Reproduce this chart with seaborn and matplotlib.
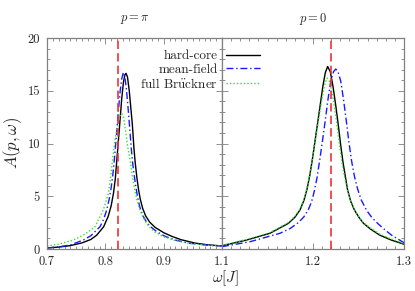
import matplotlib
matplotlib.use("Agg")
import matplotlib.pyplot as plt
from matplotlib.ticker import MultipleLocator
import seaborn as sns

# p = pi panel (omega in J, spectral function A)
w_pi_hc = [0.700, 0.720, 0.740, 0.760, 0.775, 0.785, 0.797, 0.805, 0.810, 0.814, 0.817, 0.8195,
           0.822, 0.8252, 0.828, 0.831, 0.8335, 0.8355, 0.838, 0.841, 0.8435, 0.8463, 0.849,
           0.851, 0.854, 0.857, 0.860, 0.864, 0.869, 0.876, 0.8853, 0.900, 0.9139, 0.930,
           0.9539, 0.975, 1.000]
A_pi_hc = [0.10, 0.18, 0.32, 0.58, 0.90, 1.30, 2.10, 3.10, 4.10, 5.30, 6.60, 8.30,
           10.0, 12.2, 14.2, 15.8, 16.5, 16.65, 16.3, 15.0, 13.5, 11.8, 9.6,
           8.3, 6.8, 5.6, 4.7, 3.85, 3.15, 2.55, 2.05, 1.55, 1.20, 0.88,
           0.56, 0.40, 0.29]

w_pi_mf = [0.700, 0.720, 0.740, 0.7623, 0.775, 0.791, 0.797, 0.8024, 0.8065, 0.810, 0.813,
           0.8155, 0.818, 0.8205, 0.823, 0.8255, 0.828, 0.8309, 0.8335, 0.836, 0.8385, 0.841,
           0.8435, 0.8463, 0.849, 0.852, 0.855, 0.859, 0.864, 0.870, 0.8767, 0.888, 0.9024,
           0.920, 0.9424, 0.970, 1.000]
A_pi_mf = [0.10, 0.20, 0.38, 0.85, 1.25, 2.12, 2.80, 3.70, 4.70, 5.80, 7.10,
           8.5, 10.1, 11.8, 13.5, 15.0, 16.1, 16.75, 16.3, 15.2, 13.7, 12.0,
           10.2, 8.4, 7.2, 6.0, 5.0, 4.0, 3.2, 2.6, 2.15, 1.65, 1.20,
           0.85, 0.56, 0.38, 0.28]

w_pi_fb = [0.700, 0.720, 0.7452, 0.765, 0.7823, 0.7966, 0.8052, 0.8095, 0.813, 0.817, 0.8215,
           0.825, 0.828, 0.831, 0.8345, 0.838, 0.8425, 0.846, 0.850, 0.854, 0.858, 0.863,
           0.869, 0.8738, 0.885, 0.8995, 0.920, 0.942, 0.970, 1.000]
A_pi_fb = [0.30, 0.45, 0.85, 1.40, 2.12, 3.70, 5.28, 7.0, 8.8, 10.5, 11.8,
           12.6, 12.85, 12.5, 11.3, 9.8, 8.4, 7.0, 5.7, 4.7, 3.9, 3.2,
           2.6, 2.2, 1.6, 1.17, 0.80, 0.55, 0.37, 0.27]

# p = 0 panel
w_0_hc = [1.100, 1.127, 1.1527, 1.1729, 1.180, 1.1857, 1.190, 1.1935, 1.1965, 1.1995, 1.2035,
          1.2075, 1.211, 1.2135, 1.2161, 1.219, 1.222, 1.225, 1.228, 1.2305, 1.233, 1.2355,
          1.238, 1.2415, 1.2455, 1.2505, 1.2553, 1.263, 1.2736, 1.286, 1.300]
A_0_hc = [0.31, 0.85, 1.49, 2.43, 3.0, 3.7, 4.6, 5.7, 7.0, 8.6, 11.0,
          13.4, 15.5, 16.7, 17.3, 16.8, 15.4, 13.6, 11.6, 9.8, 8.2, 6.9,
          5.6, 4.5, 3.7, 3.0, 2.45, 1.9, 1.3, 0.85, 0.45]

w_0_mf = [1.100, 1.1308, 1.1637, 1.175, 1.1839, 1.190, 1.195, 1.1985, 1.2015, 1.2045, 1.2075,
          1.2105, 1.2135, 1.2165, 1.2195, 1.2225, 1.225, 1.2275, 1.2305, 1.2335, 1.2365, 1.2395,
          1.2425, 1.2455, 1.249, 1.253, 1.259, 1.265, 1.272, 1.280, 1.2865, 1.300]
A_0_mf = [0.22, 0.69, 1.49, 1.95, 2.50, 3.05, 3.75, 4.5, 5.5, 6.8, 8.5,
          10.3, 12.2, 14.2, 15.9, 16.8, 17.06, 16.8, 15.9, 14.2, 12.2, 10.1,
          8.3, 6.9, 5.7, 4.65, 3.65, 2.95, 2.35, 1.75, 1.3, 0.6]

w_0_fb = [1.100, 1.127, 1.1527, 1.1729, 1.180, 1.1857, 1.190, 1.1935, 1.1965, 1.1995, 1.2035,
          1.2075, 1.211, 1.2135, 1.2155, 1.218, 1.221, 1.224, 1.227, 1.2295, 1.232, 1.2345,
          1.238, 1.2415, 1.2455, 1.2505, 1.2553, 1.263, 1.2736, 1.286, 1.300]
A_0_fb = [0.35, 0.90, 1.55, 2.50, 3.1, 3.8, 4.7, 5.8, 7.1, 8.6, 10.8,
          13.0, 14.8, 15.8, 16.2, 15.9, 14.8, 13.2, 11.3, 9.6, 8.1, 6.9,
          5.6, 4.55, 3.75, 3.05, 2.5, 2.0, 1.4, 0.95, 0.5]

w_res = [0.821, 1.22]   # red dashed markers
panel_titles = [r"$p=\pi$", r"$p=0$"]
labels = ["hard-core", "mean-field", r"full Br$\ddot{\mathrm{u}}$ckner"]

sns.set_style("ticks")
plt.rcParams["font.family"] = "cmr10"
plt.rcParams["mathtext.fontset"] = "cm"
plt.rcParams["axes.unicode_minus"] = False
plt.rcParams["axes.formatter.use_mathtext"] = True

fig = plt.figure(figsize=(4.15, 2.91), dpi=100)
gs = fig.add_gridspec(1, 2, width_ratios=[175, 182], wspace=0,
                      left=47 / 415, right=404 / 415, bottom=1 - 249 / 291, top=1 - 38 / 291)
ax1 = fig.add_subplot(gs[0])
ax2 = fig.add_subplot(gs[1])

styles = [dict(color="black", lw=1.0, linestyle="-"),
          dict(color="#1a1aff", lw=1.0, linestyle=(0, (5, 2, 1, 2))),
          dict(color="#33e033", lw=1.0, linestyle=(0, (1, 1.5)))]

panels = [(ax1, [(w_pi_hc, A_pi_hc), (w_pi_mf, A_pi_mf), (w_pi_fb, A_pi_fb)]),
          (ax2, [(w_0_hc, A_0_hc), (w_0_mf, A_0_mf), (w_0_fb, A_0_fb)])]

for (ax, curves), wr in zip(panels, w_res):
    for (w, a), st, lab in zip(curves, styles, labels):
        sns.lineplot(x=w, y=a, ax=ax, label=lab, legend=False, **st)
    ax.axvline(wr, color="#ee3333", lw=1.2, linestyle=(0, (5, 2.5)))
    ax.set_ylim(0, 20)
    ax.yaxis.set_major_locator(MultipleLocator(5))
    ax.yaxis.set_minor_locator(MultipleLocator(1))
    ax.xaxis.set_minor_locator(MultipleLocator(0.01))
    ax.tick_params(which="both", direction="in", top=True, right=True,
                   color="#808080", width=0.6, labelsize=9, pad=5)
    ax.tick_params(which="major", length=4)
    ax.tick_params(which="minor", length=2)
    for sp in ax.spines.values():
        sp.set_color("#808080")
        sp.set_linewidth(0.9)
    ax.set_xlabel("")
    ax.set_ylabel("")

ax1.set_xlim(0.7, 1.0)
ax1.set_xticks([0.7, 0.8, 0.9])
ax1.set_xticklabels(["0.7", "0.8", "0.9"])
ax1.set_yticks([0, 5, 10, 15, 20])
ax1.set_yticklabels(["0", "5", "10", "15", "20"])

ax2.set_xlim(1.1, 1.3)
ax2.set_xticks([1.1, 1.2, 1.3])
ax2.set_xticklabels(["1.1", "1.2", "1.3"])
ax2.tick_params(labelleft=False)

fig.text((47 + 222) / 2 / 415, 1 - 19 / 291, panel_titles[0], ha="center", va="center", fontsize=9)
fig.text((222 + 404) / 2 / 415, 1 - 19 / 291, panel_titles[1], ha="center", va="center", fontsize=9)
fig.text(225 / 415, 1 - 278 / 291, r"$\omega[J]$", ha="center", va="center", fontsize=11)
fig.text(13 / 415, 1 - 143 / 291, r"$A(p,\omega)$", ha="center", va="center",
         rotation=90, fontsize=12)

handles, labs = ax2.get_legend_handles_labels()
fig.legend(handles, labs, loc="upper right", bbox_to_anchor=(260 / 415, 1 - 50 / 291),
           frameon=False, markerfirst=False, fontsize=9.5, handlelength=2.6,
           handletextpad=0.6, labelspacing=0.1, borderpad=0, borderaxespad=0)

fig.savefig("out.png", dpi=100)
